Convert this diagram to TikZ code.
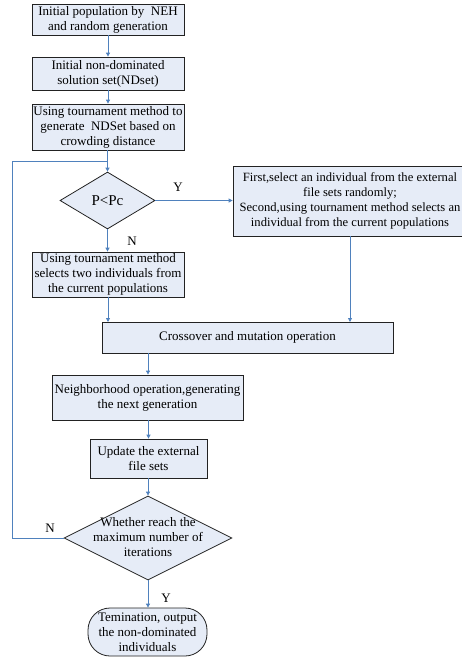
\documentclass[tikz,border=0pt]{standalone}
\usepackage{fontspec}
\setmainfont{Liberation Serif}
\usetikzlibrary{shapes.geometric,arrows.meta}
\definecolor{boxfill}{HTML}{E6ECF7}
\definecolor{arrowblue}{HTML}{4F81BD}
\definecolor{edgegray}{HTML}{222222}
\begin{document}
\begin{tikzpicture}[x=1pt,y=-1pt,
  every node/.style={font=\fontsize{13}{15}\selectfont},
  procbox/.style={draw=edgegray,fill=boxfill,line width=0.8pt,rectangle,align=center,inner sep=0pt},
  decbox/.style={draw=edgegray,fill=boxfill,line width=0.8pt,diamond,inner sep=0pt},
  termbox/.style={draw=edgegray,fill=boxfill,line width=0.8pt,rectangle,rounded corners=22pt,align=center,inner sep=0pt},
  flow/.style={draw=arrowblue,line width=0.8pt,-{Triangle[length=4pt,width=4pt]}},
  flowline/.style={draw=arrowblue,line width=0.8pt},
  lbl/.style={font=\fontsize{13}{15}\selectfont},
  dtext/.style={align=center,inner sep=0pt}
]
\useasboundingbox (0,0) rectangle (461,659);
\node[procbox,minimum width=152,minimum height=31] (b1) at (108,19.5) {Initial population by\ \ NEH\\and random generation};
\node[procbox,minimum width=152,minimum height=33] (b2) at (108,73.5) {Initial non-dominated\\solution set(NDset)};
\node[procbox,minimum width=152,minimum height=46] (b3) at (108,127) {Using tournament method to\\generate\ \ NDSet based on\\crowding distance};
\node[decbox,minimum width=95,minimum height=57] (d1) at (107.5,200.5) {};
\node[dtext,font=\fontsize{15}{17}\selectfont] (d1t) at (d1.center) {P<Pc};
\node[procbox,minimum width=234,minimum height=70,font=\fontsize{12.6}{15}\selectfont] (rb) at (350,201) {First,select an individual from the external\\file sets randomly;\\Second,using tournament method selects an\\individual from the current populations};
\node[procbox,minimum width=152,minimum height=45] (b4) at (108,274.5) {Using tournament method\\selects two individuals from\\the current populations};
\node[procbox,minimum width=291,minimum height=31] (cx) at (247.5,337.5) {Crossover and mutation operation};
\node[procbox,minimum width=191,minimum height=45] (b5) at (147.5,397.5) {Neighborhood operation,generating\\the next generation};
\node[procbox,minimum width=117,minimum height=39] (b6) at (148.5,458.5) {Update the external\\file sets};
\node[decbox,minimum width=168,minimum height=84] (d2) at (148,538) {};
\node[dtext] (d2t) at (148,537) {Whether reach the\\maximum number of\\iterations};
\node[termbox,minimum width=119,minimum height=48] (t) at (147.5,632) {Temination, output\\the non-dominated\\individuals};

\coordinate (c1) at (107.5,161);
\coordinate (c2) at (12,538);
\coordinate (c3) at (12,161);
\coordinate (rbx) at (350,322);
\coordinate (b4x) at (108,322);
\coordinate (cxb) at (148,353);

\draw[flow] (b1) -- (b2);
\draw[flow] (b2) -- (b3);
\draw[flow] (b3.south -| d1.north) -- (d1.north);
\draw[flow] (d1.east) -- (rb.west |- d1.east);
\draw[flow] (d1.south) -- (b4.north -| d1.south);
\draw[flow] (b4.south) -- (b4x);
\draw[flow] (rb.south -| rbx) -- (rbx);
\draw[flow] (cxb) -- (b5.north -| cxb);
\draw[flow] (b5.south -| b6.north) -- (b6.north);
\draw[flow] (b6.south -| d2.north) -- (d2.north);
\draw[flow] (d2.south) -- (t.north -| d2.south);
\draw[flowline] (d2.west) -- (c2) -- (c3) -- (c1);

\node[lbl] (ly1) at (178,187) {Y};
\node[lbl] (ln1) at (132,241) {N};
\node[lbl] (ln2) at (50,528) {N};
\node[lbl] (ly2) at (166,598) {Y};
\end{tikzpicture}
\end{document}
